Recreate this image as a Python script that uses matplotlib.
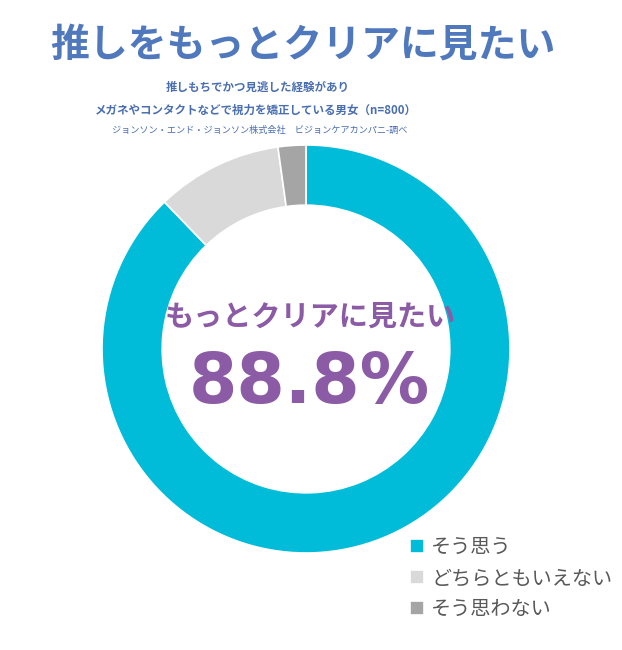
"""Donut chart: 推しをもっとクリアに見たい survey result."""

import matplotlib

matplotlib.use("Agg")

import matplotlib.pyplot as plt

plt.rcParams["font.family"] = ["Noto Sans CJK JP", "DejaVu Sans"]

labels = ["そう思う", "どちらともいえない", "そう思わない"]
# slice sizes as drawn in the reference (the headline value is 88.8%)
shares = [87.8, 10.0, 2.2]
colors = ["#00BCD9", "#D9D9D9", "#A5A5A5"]
headline_value = "88.8%"

title = "推しをもっとクリアに見たい"
subtitle_lines = [
    "推しもちでかつ見逃した経験があり",
    "メガネやコンタクトなどで視力を矯正している男女（n=800）",
]
source = "ジョンソン・エンド・ジョンソン株式会社　ビジョンケアカンパニ-調べ"
center_label = "もっとクリアに見たい"

W, H = 622, 650
fig = plt.figure(figsize=(W / 100, H / 100), dpi=100)


def px(x, y):
    return x / W, 1 - y / H


# donut: centre (306, 349) px, radius 204 px
cx, cy, r = 306, 349, 204
ax = fig.add_axes([(cx - r) / W, (H - cy - r) / H, 2 * r / W, 2 * r / H])
wedges, _ = ax.pie(
    shares,
    colors=colors,
    startangle=90,
    counterclock=False,
    radius=1.0,
    wedgeprops=dict(width=0.295, edgecolor="white", linewidth=1.2),
)
ax.set_xlim(-1, 1)
ax.set_ylim(-1, 1)
ax.set_aspect("equal")
ax.axis("off")

# headline
fig.text(*px(303, 45), title, ha="center", va="center", fontsize=28,
         fontweight="bold", color="#5079BD")
blue = "#4A6FB0"
fig.text(*px(258, 87), subtitle_lines[0], ha="center", va="center",
         fontsize=8.3, fontweight="bold", color=blue)
fig.text(*px(256, 110), subtitle_lines[1], ha="center", va="center",
         fontsize=8.3, fontweight="bold", color=blue)
fig.text(*px(260, 130), source, ha="center", va="center",
         fontsize=6.6, color=blue)

# centre labels
purple = "#8C5BA6"
fig.text(*px(310, 317), center_label, ha="center", va="center",
         fontsize=21, fontweight="bold", color=purple)
fig.text(*px(309, 383), headline_value, ha="center", va="center",
         fontsize=50, fontweight="bold", color=purple, family="DejaVu Sans")

ax.legend(
    wedges,
    labels,
    loc="upper left",
    bbox_to_anchor=px(400, 527),
    bbox_transform=fig.transFigure,
    frameon=False,
    fontsize=14.5,
    handlelength=0.7,
    handleheight=0.7,
    handletextpad=0.35,
    labelspacing=0.5,
    labelcolor="#595959",
    borderpad=0,
)

fig.savefig("out.png", dpi=100, facecolor="white")
